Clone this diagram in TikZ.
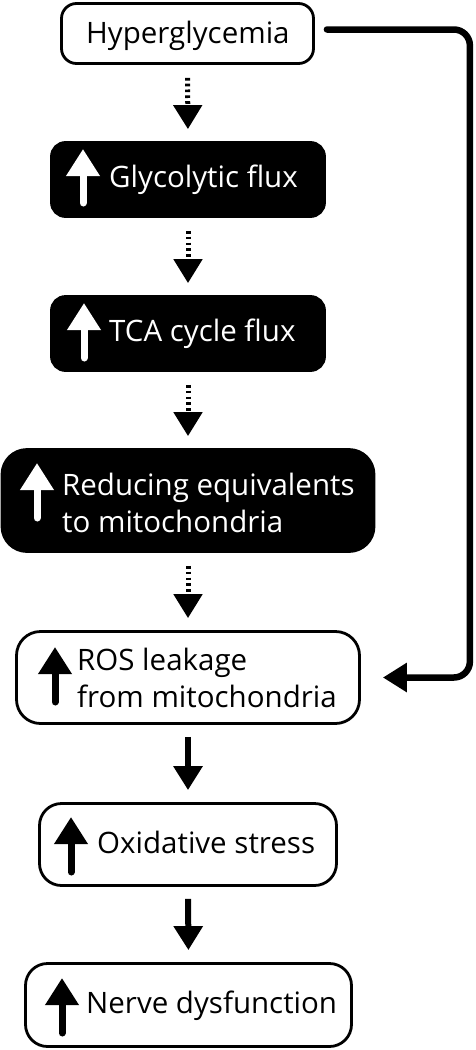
\documentclass[tikz,border=0pt]{standalone}
\usepackage{fontspec}
\setmainfont{Open Sans}
\usetikzlibrary{arrows.meta}
\begin{document}
\begin{tikzpicture}[x=1pt,y=-1pt,
  box/.style={draw=black, line width=2.8pt, inner sep=0pt},
  wbox/.style={box, fill=white},
  bbox/.style={box, fill=black},
  lbl/.style={anchor=base west, inner sep=0pt, font=\fontsize{29.5}{34}\selectfont},
  wlbl/.style={lbl, text=white},
  tip/.style={-{Triangle[length=24pt,width=28pt]}},
  dotarr/.style={tip, line width=5pt, dash pattern=on 2.7pt off 3.1pt, shorten <=13pt, shorten >=12pt},
  solarr/.style={tip, line width=6pt, shorten <=12pt, shorten >=12pt},
  fbline/.style={tip, line width=6.5pt, line cap=round, rounded corners=16pt},
  icon/.style={line width=7pt, line cap=round, -{Triangle[length=27pt,width=32pt]}}
]
\useasboundingbox (0,0) rectangle (475,1050);

% boxes
\node[wbox, rounded corners=15pt, minimum width=252pt, minimum height=60pt] (b1) at (187.5,33.5) {};
\node[bbox, rounded corners=14pt, minimum width=273pt, minimum height=74pt] (b2) at (188,179.5) {};
\node[bbox, rounded corners=14pt, minimum width=273pt, minimum height=74pt] (b3) at (188,333.5) {};
\node[bbox, rounded corners=25pt, minimum width=372pt, minimum height=102pt] (b4) at (188,500.5) {};
\node[wbox, rounded corners=24pt, minimum width=343pt, minimum height=92pt] (b5) at (188,677.5) {};
\node[wbox, rounded corners=22pt, minimum width=297pt, minimum height=82pt] (b6) at (188,844.5) {};
\node[wbox, rounded corners=22pt, minimum width=326pt, minimum height=83pt] (b7) at (188.5,1005) {};

% labels
\node[lbl]  (t1)  at (86,43)   {Hyperglycemia};
\node[wlbl] (t2)  at (109,187) {Glycolytic flux};
\node[wlbl] (t3)  at (109,341) {TCA cycle flux};
\node[wlbl] (t4a) at (62,495)  {Reducing equivalents};
\node[wlbl] (t4b) at (62,532)  {to mitochondria};
\node[lbl]  (t5a) at (77,670)  {ROS leakage};
\node[lbl]  (t5b) at (77,707)  {from mitochondria};
\node[lbl]  (t6)  at (97,853)  {Oxidative stress};
\node[lbl]  (t7)  at (86,1013) {Nerve dysfunction};

% up-arrow icons
\draw[icon, white] (83,203) -- (83,149);
\draw[icon, white] (84,358) -- (84,303);
\draw[icon, white] (37,518) -- (37,463);
\draw[icon, black] (55,702) -- (55,647);
\draw[icon, black] (71,872) -- (71,817);
\draw[icon, black] (62,1033) -- (62,978);

% connectors
\draw[dotarr] (b1.south) -- (b2.north);
\draw[dotarr] (b2.south) -- (b3.north);
\draw[dotarr] (b3.south) -- (b4.north);
\draw[dotarr] (b4.south) -- (b5.north);
\draw[solarr] (b5.south) -- (b6.north);
\draw[solarr] (b6.south) -- (b7.north);
\draw[fbline] ([xshift=12pt,yshift=4pt]b1.east) -| ([xshift=109pt]b5.east) -- ([xshift=22pt]b5.east);
\end{tikzpicture}
\end{document}
